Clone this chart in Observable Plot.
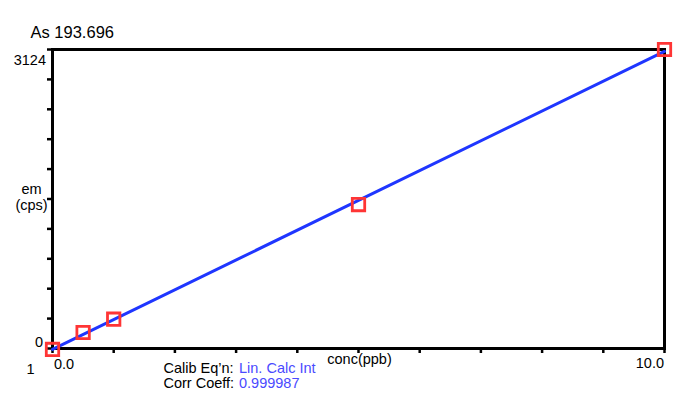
<!DOCTYPE html>
<html><head><meta charset="utf-8">
<script src="https://cdn.jsdelivr.net/npm/d3@7"></script>
<script src="https://cdn.jsdelivr.net/npm/@observablehq/plot@0.6"></script>
<style>
html,body{margin:0;padding:0;background:#fff}
svg{font-family:"Liberation Sans",Arial,sans-serif}
</style>
</head><body><div id="chart"></div>
<script>
// ---- data ----
const titleText = "As 193.696";
const concs = [0, 0.5, 1.0, 5.0, 10.0];            // ppb
const counts = [-10, 167, 306, 1504, 3124];         // cps
const xDomain = [0, 10];
const yDomain = [0, 3124];
const xTicks = [0, 1, 2, 3, 4, 5, 6, 7, 8, 9, 10];
const yTicks = [0, 312.4, 624.8, 937.2, 1249.6, 1562, 1874.4, 2186.8, 2499.2, 2811.6, 3124];
const xTickLabels = ["0.0", "10.0"];
const yTickLabels = ["0", "3124"];
const xLabel = "conc(ppb)";
const yLabelLines = ["em", "(cps)"];
const infoKeys = ["Calib Eq\u2019n:", "Corr Coeff:"];
const infoValues = ["Lin. Calc Int", "0.999987"];
const footnote = "1";

const points = concs.map((c, i) => ({c, v: counts[i]}));
const FS = 14.5;

const chart = Plot.plot({
  width: 696,
  height: 398,
  marginLeft: 52,
  marginRight: 32,
  marginTop: 49,
  marginBottom: 50,
  style: {fontFamily: "'Liberation Sans', Arial, sans-serif", background: "#fff"},
  x: {domain: xDomain},
  y: {domain: yDomain},
  marks: [
    Plot.axisX({ticks: xTicks, tickSize: 5, tickFormat: () => "", label: null, stroke: "black", strokeWidth: 2.5}),
    Plot.axisY({ticks: yTicks, tickSize: 5, tickFormat: () => "", label: null, stroke: "black", strokeWidth: 2.5}),
    Plot.frame({stroke: "black", strokeWidth: 3}),
    Plot.linearRegressionY(points, {x: "c", y: "v", ci: 0, stroke: "#1f36ff", strokeWidth: 3}),
    Plot.dot(points, {x: "c", y: "v", symbol: "square", r: 7, fill: "none", stroke: "#ff3535", strokeWidth: 2.8}),
    // title
    Plot.text([titleText], {frameAnchor: "top-left", textAnchor: "start", lineAnchor: "bottom", dx: -22, dy: -12, fontSize: 16.5, fill: "black"}),
    // y tick labels
    Plot.text([yDomain[1]], {y: d => d, text: () => yTickLabels[1], frameAnchor: "left", textAnchor: "end", lineAnchor: "bottom", dx: -6.5, dy: 15, fontSize: FS, fill: "black"}),
    Plot.text([yDomain[0]], {y: d => d, text: () => yTickLabels[0], frameAnchor: "left", textAnchor: "end", lineAnchor: "bottom", dx: -9.5, dy: -2, fontSize: FS, fill: "black"}),
    // x tick labels
    Plot.text([xDomain[0]], {x: d => d, text: () => xTickLabels[0], frameAnchor: "bottom", textAnchor: "start", lineAnchor: "bottom", dx: 1.5, dy: 20, fontSize: FS, fill: "black"}),
    Plot.text([xDomain[1]], {x: d => d, text: () => xTickLabels[1], frameAnchor: "bottom", textAnchor: "end", lineAnchor: "bottom", dx: -0.5, dy: 19, fontSize: FS, fill: "black"}),
    // axis labels
    Plot.text([xLabel], {frameAnchor: "bottom", textAnchor: "middle", lineAnchor: "bottom", dx: 1, dy: 15, fontSize: FS, fill: "black"}),
    Plot.text([yLabelLines.join("\n")], {frameAnchor: "left", textAnchor: "middle", lineAnchor: "bottom", lineHeight: 1.05, dx: -21, dy: 10.5, fontSize: FS, fill: "black"}),
    // footnote
    Plot.text([footnote], {frameAnchor: "bottom-left", textAnchor: "middle", lineAnchor: "bottom", dx: -22, dy: 25, fontSize: FS, fill: "black"}),
    // info block
    ...infoKeys.map((t, i) => Plot.text([t], {frameAnchor: "bottom-left", textAnchor: "start", lineAnchor: "bottom", dx: 111, dy: 24.7 + 14.7 * i, fontSize: FS, fill: "black"})),
    ...infoValues.map((t, i) => Plot.text([t], {frameAnchor: "bottom-left", textAnchor: "start", lineAnchor: "bottom", dx: 186.5, dy: 24.7 + 14.7 * i, fontSize: FS, fill: "#4a4aff"}))
  ]
});
document.getElementById("chart").appendChild(chart);
</script>
</body></html>
